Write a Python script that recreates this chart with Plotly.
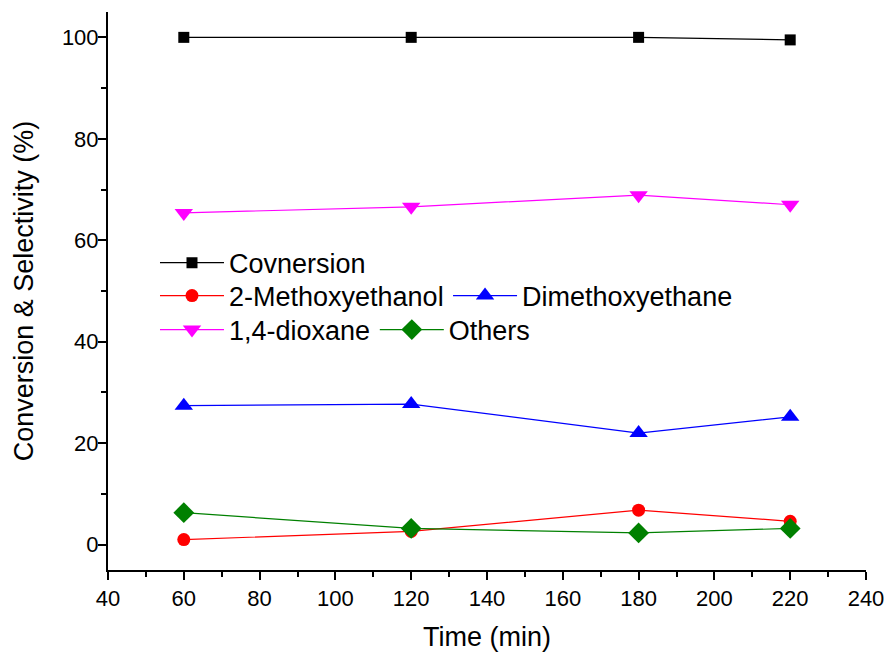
import plotly.graph_objects as go

time = [60, 120, 180, 220]
conversion = [100.0, 100.0, 100.0, 99.5]
methoxyethanol = [1.0, 2.6, 6.8, 4.6]
dimethoxyethane = [27.4, 27.7, 22.0, 25.2]
dioxane = [65.4, 66.6, 68.9, 67.0]
others = [6.3, 3.2, 2.3, 3.2]

FONT = "Liberation Sans, Arial, sans-serif"

fig = go.Figure()

def add(name, y, color, symbol, size, legend):
    fig.add_trace(go.Scatter(
        x=time, y=y, name=name, mode="lines+markers",
        line=dict(color=color, width=1.2),
        marker=dict(color=color, symbol=symbol, size=size, line=dict(width=0)),
        legend=legend,
    ))

add("Covnersion", conversion, "black", "square", 11, "legend")
add("2-Methoxyethanol", methoxyethanol, "red", "circle", 13, "legend2")
add("Dimethoxyethane", dimethoxyethane, "blue", "triangle-up", 16, "legend3")
add("1,4-dioxane", dioxane, "magenta", "triangle-down", 16, "legend4")
add("Others", others, "green", "diamond", 16, "legend5")

axis_common = dict(
    showline=True, linecolor="black", linewidth=2,
    ticks="outside", ticklen=8, tickwidth=2, tickcolor="black",
    showgrid=False, zeroline=False, mirror=False, automargin=False,
    tickfont=dict(family=FONT, size=22, color="black"),
)

fig.update_xaxes(
    range=[40, 240], dtick=20, tick0=0,
    minor=dict(dtick=10, ticks="outside", ticklen=5, tickwidth=2, tickcolor="black"),
    title=dict(text="Time (min)", font=dict(family=FONT, size=27, color="black"), standoff=17),
    ticklabeloverflow="allow",
    **axis_common,
)
fig.update_yaxes(
    range=[-5, 105], dtick=20, tick0=0,
    minor=dict(dtick=10, ticks="outside", ticklen=5, tickwidth=2, tickcolor="black"),
    title=dict(text="Conversion & Selectivity (%)", font=dict(family=FONT, size=27, color="black"), standoff=20),
    ticklabelstandoff=-5,
    **axis_common,
)

leg_common = dict(
    orientation="h", bgcolor="rgba(0,0,0,0)", borderwidth=0,
    font=dict(family=FONT, size=27, color="black"),
    xanchor="left", yanchor="middle", itemwidth=64,
    tracegroupgap=0,
)

fig.update_layout(
    width=884, height=655,
    margin=dict(l=108, r=18, t=12, b=85),
    paper_bgcolor="white", plot_bgcolor="white",
    showlegend=True,
    legend=dict(x=0.062, y=0.550, **leg_common),
    legend2=dict(x=0.062, y=0.491, **leg_common),
    legend3=dict(x=0.4486, y=0.491, **leg_common),
    legend4=dict(x=0.062, y=0.430, **leg_common),
    legend5=dict(x=0.352, y=0.430, **leg_common),
)

fig.write_html(
    "out.html",
    config={"displayModeBar": False},
    post_script="document.body.style.margin='0';document.body.style.overflow='hidden';",
)
